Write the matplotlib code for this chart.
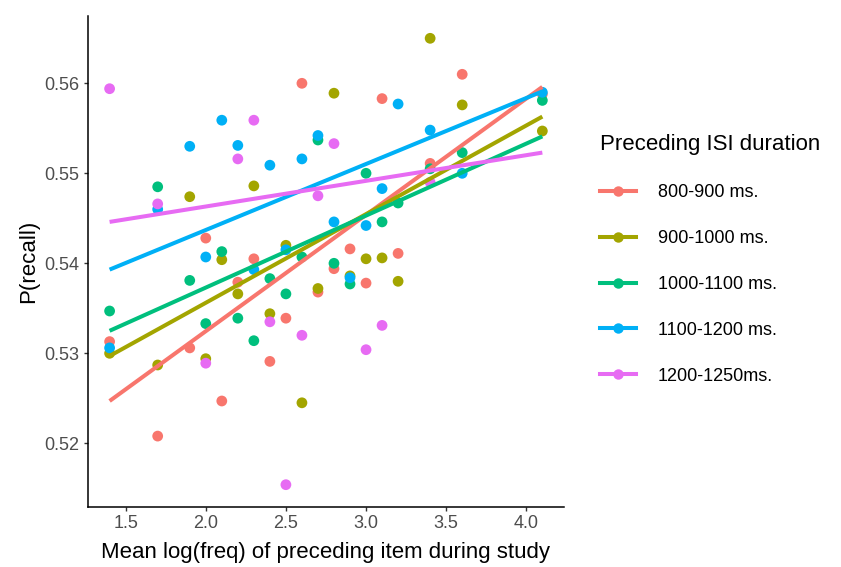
import matplotlib
matplotlib.use("Agg")
import matplotlib.pyplot as plt
from matplotlib.lines import Line2D

plt.rcParams['font.family'] = ['Liberation Sans', 'DejaVu Sans']

# mean log(freq) bins of the preceding item
x_all = [1.4, 1.7, 1.9, 2.0, 2.1, 2.2, 2.3, 2.4, 2.5, 2.6, 2.7, 2.8, 2.9,
         3.0, 3.1, 3.2, 3.4, 3.6, 4.1]
x_pink = [1.4, 1.7, 2.0, 2.2, 2.3, 2.4, 2.5, 2.6, 2.7, 2.8, 3.0, 3.1, 3.4]

groups = ['800-900 ms.', '900-1000 ms.', '1000-1100 ms.', '1100-1200 ms.', '1200-1250ms.']
colors = ['#F8766D', '#A3A500', '#00BF7D', '#00B0F6', '#E76BF3']

recall_800 = [0.5313, 0.5208, 0.5306, 0.5428, 0.5247, 0.5379, 0.5405, 0.5291, 0.5339, 0.5600,
              0.5368, 0.5394, 0.5416, 0.5378, 0.5583, 0.5411, 0.5511, 0.5610, 0.5588]
recall_900 = [0.5300, 0.5287, 0.5474, 0.5294, 0.5404, 0.5366, 0.5486, 0.5344, 0.5420, 0.5245,
              0.5372, 0.5589, 0.5386, 0.5405, 0.5406, 0.5380, 0.5650, 0.5576, 0.5547]
recall_1000 = [0.5347, 0.5485, 0.5381, 0.5333, 0.5413, 0.5339, 0.5314, 0.5383, 0.5366, 0.5407,
               0.5537, 0.5400, 0.5377, 0.5500, 0.5446, 0.5467, 0.5505, 0.5523, 0.5581]
recall_1100 = [0.5306, 0.5460, 0.5530, 0.5407, 0.5559, 0.5531, 0.5393, 0.5509, 0.5415, 0.5516,
               0.5542, 0.5446, 0.5384, 0.5442, 0.5483, 0.5577, 0.5548, 0.5500, 0.5590]
recall_1200 = [0.5594, 0.5466, 0.5289, 0.5516, 0.5559, 0.5335, 0.5154, 0.5320, 0.5475, 0.5533,
               0.5304, 0.5331, 0.5490]

# linear fits: value at x=1.4 and at x=4.1
fit_x = [1.4, 4.1]
fit_lo = [0.5247, 0.5297, 0.5325, 0.5393, 0.5446]
fit_hi = [0.5596, 0.5563, 0.5541, 0.5591, 0.5523]

xs = [x_all, x_all, x_all, x_all, x_pink]
ys = [recall_800, recall_900, recall_1000, recall_1100, recall_1200]

fig = plt.figure(figsize=(8.41, 5.67), dpi=100)
ax = fig.add_axes([0.1046, 0.1058, 0.566, 0.866])

for x, y, c in zip(xs, ys, colors):
    ax.scatter(x, y, s=60, color=c, edgecolors='none', zorder=2)

for lo, hi, c in zip(fit_lo, fit_hi, colors):
    ax.plot(fit_x, [lo, hi], color=c, linewidth=2.9, solid_capstyle='butt', zorder=3)

ax.set_xlim(1.265, 4.235)
ax.set_ylim(0.51292, 0.56748)
ax.set_xticks([1.5, 2.0, 2.5, 3.0, 3.5, 4.0])
ax.set_xticklabels(['1.5', '2.0', '2.5', '3.0', '3.5', '4.0'])
ax.set_yticks([0.52, 0.53, 0.54, 0.55, 0.56])
ax.set_yticklabels(['0.52', '0.53', '0.54', '0.55', '0.56'])

for s in ['top', 'right']:
    ax.spines[s].set_visible(False)
for s in ['left', 'bottom']:
    ax.spines[s].set_linewidth(1.1)
    ax.spines[s].set_color('black')
ax.tick_params(length=3, width=1.0, color='#333333', labelcolor='#4D4D4D',
               labelsize=13, pad=3)

ax.set_xlabel('Mean log(freq) of preceding item during study', fontsize=16, labelpad=7)
ax.set_ylabel('P(recall)', fontsize=16, labelpad=4)

handles = [Line2D([0], [0], color=c, linewidth=2.9, marker='o', markersize=7.5,
                  markeredgewidth=0) for c in colors]
leg = fig.legend(handles, groups, loc='upper left', bbox_to_anchor=(0.705, 0.776),
                 frameon=False, title='Preceding ISI duration', title_fontsize=16,
                 fontsize=13, handlelength=2.0, handletextpad=1.2, labelspacing=1.6,
                 borderaxespad=0)
leg._legend_box.align = 'left'

fig.savefig('out.png', dpi=100)
